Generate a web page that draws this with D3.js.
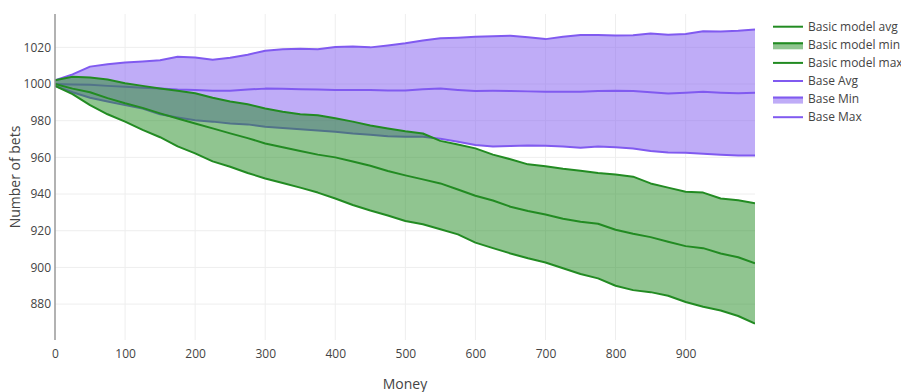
<!DOCTYPE html>
<html>
<head>
<meta charset="utf-8">
<script src="https://cdn.jsdelivr.net/npm/d3@7"></script>
<style>
  html, body { margin: 0; padding: 0; background: #fff; }
  svg { display: block; }
  text { font-family: "Open Sans", "DejaVu Sans", Arial, sans-serif; fill: #444; }
</style>
</head>
<body>
<svg id="chart" width="901" height="392"></svg>
<script>
// ---- data ----
const moneySteps = [0,25,50,75,100,125,150,175,200,225,250,275,300,325,350,375,400,425,450,475,500,
  525,550,575,600,625,650,675,700,725,750,775,800,825,850,875,900,925,950,975,999];

const basicAvg = [1000,997.5,995.5,992.3,989.5,987,984,981.2,978.5,975.8,973.1,970.5,967.6,965.5,963.5,961.5,960,957.8,955.4,952.6,950.2,
  948,945.8,942.5,939.1,936.5,933.1,930.8,928.8,926.5,924.9,923.8,920.5,918.3,916.5,914,911.6,910.5,907.6,905.5,902.2];
const basicMin = [999,994.5,988.5,983.5,979.5,975,971,966,962.2,957.8,954.9,951.5,948.5,946,943.5,940.8,937.6,934,931,928.3,925.3,
  923.5,920.8,918,913.5,910.5,907.6,905,902.7,899.5,896.4,894,890,887.6,886.5,884.5,881.1,878.5,876.5,873.5,869.3];
const basicMax = [1002,1004,1003.6,1002.5,1000.4,999,997.6,996.3,995,992.5,990.5,989,986.7,984.9,983.5,983,981.3,979.5,977.4,975.8,974.2,
  973,969,967,964.9,961.5,959,956.2,955.2,953.8,952.7,951.5,950.6,949.5,945.8,943.5,941.3,940.8,937.6,936.6,935];

const baseAvg = [1000,999.8,999.6,999,998.5,998,997.6,997,996.7,996.4,996.3,997,997.5,997.4,997.2,997,996.7,996.7,996.7,996.5,996.5,
  997.2,997.6,996.8,996.2,996.3,996.2,996,995.8,995.8,995.8,996.2,996.4,996.2,995.5,994.9,995.3,995.8,995.3,995,995.3];
const baseMin = [999,995.5,992.5,990.5,988.5,986.6,983.5,981.8,980.2,979.5,978.5,978,976.7,976,975.3,974.6,974,973,972.3,971.5,971.2,
  971.3,970.2,968.5,966.7,965.9,966.2,966.5,966.4,966,965.3,966,965.5,964.9,963.5,962.6,962.5,962,961.4,961,961];
const baseMax = [1002,1005.3,1009.5,1010.8,1011.8,1012.3,1013,1014.9,1014.5,1013.2,1014.3,1016,1018.2,1019,1019.2,1019,1020.2,1020.5,1020,1021,1022.2,
  1023.8,1025,1025.3,1025.8,1026,1026.4,1025.5,1024.5,1025.8,1026.7,1026.7,1026.5,1026.6,1027.6,1026.9,1027.3,1028.8,1028.7,1029,1029.8];

const xTicks = [0,100,200,300,400,500,600,700,800,900];
const yTicks = [880,900,920,940,960,980,1000,1020];
const legendNames = ["Basic model avg","Basic model min","Basic model max","Base Avg","Base Min","Base Max"];

// ---- layout ----
const svg = d3.select("#chart");
const L = 55, R = 755, T = 14, B = 340;
const green = "rgb(34,139,34)", greenFill = "rgba(34,139,34,0.5)";
const purple = "rgb(128,90,240)", purpleFill = "rgba(128,90,240,0.5)";

const x = d3.scaleLinear().domain([0, 999]).range([L, R]);
const y = d3.scaleLinear().domain([860.4, 1038.2]).range([B, T]);

svg.append("defs").append("clipPath").attr("id","clip")
  .append("rect").attr("x", L).attr("y", T).attr("width", R - L).attr("height", B - T);

// grid
const grid = svg.append("g");
grid.selectAll(".vg").data(xTicks.filter(d => d > 0)).join("line")
  .attr("x1", d => x(d)).attr("x2", d => x(d)).attr("y1", T).attr("y2", B)
  .attr("stroke", "#eee").attr("stroke-width", 1);
grid.selectAll(".hg").data(yTicks).join("line")
  .attr("x1", L).attr("x2", R).attr("y1", d => y(d)).attr("y2", d => y(d))
  .attr("stroke", "#eee").attr("stroke-width", 1);

// axes (labels only, plotly style)
const fontFam = '"Open Sans", "DejaVu Sans", Arial, sans-serif';
const xAxis = d3.axisBottom(x).tickValues(xTicks).tickSize(0).tickPadding(9).tickFormat(d3.format("d"));
const gx = svg.append("g").attr("transform", `translate(0,${B})`).call(xAxis);
gx.select(".domain").remove();
gx.selectAll("text").style("font-size", "12px").attr("fill", "#444").style("font-family", fontFam);

const yAxis = d3.axisLeft(y).tickValues(yTicks).tickSize(0).tickPadding(4).tickFormat(d3.format("d"));
const gy = svg.append("g").attr("transform", `translate(${L},0)`).call(yAxis);
gy.select(".domain").remove();
gy.selectAll("text").style("font-size", "12px").attr("fill", "#444").style("font-family", fontFam);

// series
const idx = moneySteps.map((d, i) => i);
const plot = svg.append("g").attr("clip-path", "url(#clip)");

function band(lo, hi, fill) {
  plot.append("path").datum(idx)
    .attr("d", d3.area().x(i => x(moneySteps[i])).y0(i => y(lo[i])).y1(i => y(hi[i])))
    .attr("fill", fill).attr("stroke", "none");
}
function line(vals, color) {
  plot.append("path").datum(idx)
    .attr("d", d3.line().x(i => x(moneySteps[i])).y(i => y(vals[i])))
    .attr("fill", "none").attr("stroke", color).attr("stroke-width", 2)
    .attr("stroke-linejoin", "round");
}

// Base (purple) first, green model on top
band(baseMin, baseMax, purpleFill);
line(baseAvg, purple); line(baseMin, purple); line(baseMax, purple);
band(basicMin, basicMax, greenFill);
line(basicAvg, green); line(basicMin, green); line(basicMax, green);

// y axis line
svg.append("line").attr("x1", L).attr("x2", L).attr("y1", T).attr("y2", B)
  .attr("stroke", "#999").attr("stroke-width", 1.5);

// axis titles
svg.append("text").attr("x", (L + R) / 2).attr("y", 389).attr("text-anchor", "middle")
  .style("font-size", "14px").text("Money");
svg.append("text").attr("transform", `translate(20,${(T + B) / 2}) rotate(-90)`)
  .attr("text-anchor", "middle").style("font-size", "14px").text("Number of bets");

// legend
const legendColors = [green, green, green, purple, purple, purple];
const legendFills = [null, greenFill, null, null, purpleFill, null];
const lg = svg.append("g");
legendNames.forEach((name, i) => {
  const cy = 26.7 + i * 18.1;
  if (legendFills[i]) {
    lg.append("rect").attr("x", 773).attr("y", cy - 2.5).attr("width", 30).attr("height", 7)
      .attr("fill", legendFills[i]);
  }
  lg.append("line").attr("x1", 773).attr("x2", 803).attr("y1", cy - (legendFills[i] ? 1.5 : 0)).attr("y2", cy - (legendFills[i] ? 1.5 : 0))
    .attr("stroke", legendColors[i]).attr("stroke-width", 2);
  lg.append("text").attr("x", 808).attr("y", cy).attr("dy", "0.35em")
    .style("font-size", "12px").text(name);
});
</script>
</body>
</html>
